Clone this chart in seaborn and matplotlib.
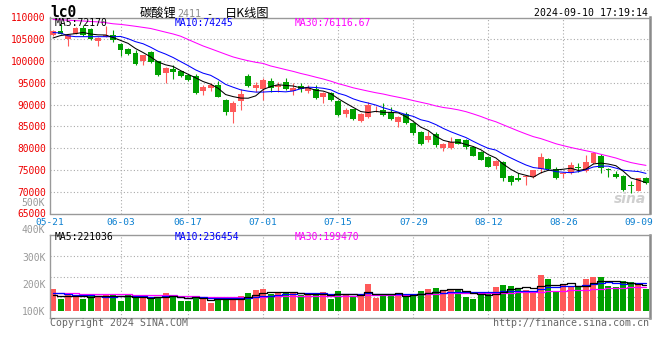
import numpy as np
import pandas as pd
import matplotlib
matplotlib.use("Agg")
import matplotlib.pyplot as plt
import matplotlib.transforms as mtransforms
import seaborn as sns

# ---------------- data ----------------
dates = ["05-21", "05-22", "05-23", "05-24", "05-27", "05-28", "05-29", "05-30", "05-31",
         "06-03", "06-04", "06-05", "06-06", "06-07", "06-11", "06-12", "06-13", "06-14",
         "06-17", "06-18", "06-19", "06-20", "06-21", "06-24", "06-25", "06-26", "06-27", "06-28",
         "07-01", "07-02", "07-03", "07-04", "07-05", "07-08", "07-09", "07-10", "07-11", "07-12",
         "07-15", "07-16", "07-17", "07-18", "07-19", "07-22", "07-23", "07-24", "07-25", "07-26",
         "07-29", "07-30", "07-31", "08-01", "08-02", "08-05", "08-06", "08-07", "08-08", "08-09",
         "08-12", "08-13", "08-14", "08-15", "08-16", "08-19", "08-20", "08-21", "08-22", "08-23",
         "08-26", "08-27", "08-28", "08-29", "08-30", "09-02", "09-03", "09-04", "09-05", "09-06",
         "09-09", "09-10"]

opens = [106000, 106900, 105140, 106300, 107660, 107360, 104680, 105600, 105920, 104030,
         102850, 101930, 100020, 102090, 99950, 97270, 98260, 97650, 96740, 96580,
         93210, 93890, 94510, 91070, 88390, 90920, 96650, 93890, 93530, 95430,
         93990, 95120, 93210, 94290, 93210, 93530, 91830, 92610, 90920, 87780,
         88990, 86330, 87240, 88900, 88780, 88390, 86100, 87860, 85870, 83800,
         81900, 83270, 79990, 79990, 82060, 81900, 80360, 79210, 78070, 75930,
         76920, 73640, 73110, 73400, 73340, 75180, 77540, 75180, 74030, 74260,
         75770, 74850, 76550, 78300, 75180, 74100, 73720, 71580, 70200, 73110]
highs = [107200, 108400, 106300, 107900, 108280, 107500, 105500, 108000, 107060, 104200,
         103000, 102480, 101500, 102400, 100100, 98600, 99170, 97800, 97110, 97110,
         94510, 94900, 95430, 91200, 90920, 93530, 96970, 95270, 96050, 96050,
         95270, 96050, 94900, 94900, 94510, 94510, 92900, 92800, 91100, 89310,
         89100, 88000, 90690, 89700, 90310, 89470, 87400, 88390, 86000, 84000,
         84030, 83600, 81100, 82520, 82200, 82000, 80500, 79300, 78200, 77300,
         77000, 73800, 74400, 73700, 75100, 78850, 77700, 75600, 74500, 76780,
         76550, 78460, 79100, 78690, 75500, 74850, 73800, 72560, 73200, 73340]
lows = [105800, 106100, 103400, 106150, 105800, 104900, 103400, 105500, 104380, 101100,
        101330, 99170, 99170, 99600, 96510, 94970, 95820, 96400, 95400, 92520,
        92220, 93210, 91690, 87630, 85870, 88770, 94130, 92840, 91070, 92990,
        92990, 93300, 92220, 92990, 92760, 91400, 90310, 90900, 87400, 87240,
        86500, 86100, 87000, 88390, 87400, 86500, 84950, 85600, 83100, 80750,
        81510, 80300, 79440, 79800, 80900, 79800, 78200, 77200, 75650, 75250,
        72560, 71580, 72500, 71580, 73200, 74260, 75100, 73000, 73250, 74100,
        74630, 74630, 76400, 74400, 73490, 73260, 70200, 69670, 70100, 71730]
closes = [106900, 106290, 106060, 107670, 105920, 105070, 105370, 105900, 104770, 102590,
          101700, 99400, 101330, 99790, 96740, 98420, 97500, 96580, 95590, 92680,
          94130, 94510, 91830, 88390, 90310, 92450, 94360, 94510, 95660, 93760,
          94510, 93530, 93890, 93530, 93890, 91600, 92610, 91070, 87630, 88770,
          86710, 87860, 89930, 88980, 87630, 86720, 87240, 85730, 83440, 80980,
          82820, 80750, 80980, 81370, 80980, 80220, 78300, 77310, 75770, 77150,
          73110, 72330, 72720, 73560, 75010, 78070, 75250, 73110, 74400, 76160,
          75410, 76920, 78990, 75410, 75020, 73490, 70430, 71350, 73110, 71960]
volumes = [181500, 144400, 159300, 156700, 144400, 159300, 155600, 161900, 159300, 137000,
           159300, 147000, 159300, 144400, 149300, 166700, 159300, 137000, 137000, 155600,
           147000, 129600, 144400, 149300, 153000, 154400, 166700, 177800, 181500, 164100,
           167800, 166700, 166700, 159300, 159300, 166700, 170400, 144400, 174000, 163000,
           155600, 155600, 200000, 148100, 163000, 155600, 163000, 155600, 163000, 174000,
           181500, 185200, 177800, 181500, 177800, 151900, 144400, 159300, 166700, 188900,
           196300, 192600, 181500, 177800, 170400, 233300, 218500, 174000, 200000, 188900,
           188900, 218500, 225900, 225900, 192600, 188900, 211100, 207400, 200000, 181500]

# moving-average values before each window is full
price_ma5_head = [105300, 105850, 106100, 106300]
price_ma10_head = [106550, 106450, 105800, 105600, 105600, 105600, 105600, 105600, 105580]
price_ma30_head = [109540, 109470, 109380, 109290, 109200, 109080, 108990, 108810, 108560,
                   108420, 108210, 107980, 107730, 107480, 107060, 106630, 106220, 105710,
                   104950, 104200, 103460, 102840, 102200, 101560, 100940, 100480, 100070,
                   99720, 99450]
vol_ma5_head = [160000, 156000, 155000, 156000]
vol_ma10_head = [166000, 166000, 164000, 160000, 159000, 158000, 154000, 153000, 153000]
vol_ma30_head = ([167000] * 4 + [162000] * 7 + [158000] * 6 + [155000] * 3
                 + [151000] * 6 + [152000] * 3)

symbol = "lc0"
title_name = "碳酸锂"
title_code = "2411"
title_sep = " -  "
title_rest = "日K线图"
timestamp = "2024-09-10 17:19:14"
price_legend = ["MA5:72170", "MA10:74245", "MA30:76116.67"]
volume_legend = ["MA5:221036", "MA10:236454", "MA30:199470"]
tick_dates = ["05-21", "06-03", "06-17", "07-01", "07-15", "07-29", "08-12", "08-26", "09-09"]
price_ticks = [65000, 70000, 75000, 80000, 85000, 90000, 95000, 100000, 105000, 110000]
volume_ticks = [100000, 200000, 300000]
volume_extra_ticks = [400000, 500000]
footer_left = "Copyright 2024 SINA.COM"
footer_right = "http://finance.sina.com.cn"
watermark = "sina"

# ---------------- style ----------------
sns.set_style("white")
MONO = "DejaVu Sans Mono"
CJK = "Noto Sans CJK SC"
plt.rcParams["font.family"] = [MONO, CJK]

RED = "#ff5a5a"
GREEN = "#00a000"
BLUE = "#0000ff"
MAGENTA = "#ff00ff"
GRID = "#aaaaaa"
FRAME = "#999999"
TICK_RED = "#ee0000"
DATE_BLUE = "#0a7fd0"
VOL_GRAY = "#999999"
FOOT_GRAY = "#666666"

W, H = 660, 360
fig = plt.figure(figsize=(W / 100, H / 100), dpi=100)
fig.patch.set_facecolor("white")


def frame(l, t, r, b):
    return [l / W, 1 - b / H, (r - l) / W, (b - t) / H]


ax = fig.add_axes(frame(50, 17.5, 649.5, 213.5))
axv = fig.add_axes(frame(50, 235, 649.5, 318))

XMIN, XMAX = -0.4, 79.47
x = np.arange(len(dates))
o = np.array(opens, float)
h = np.array(highs, float)
l = np.array(lows, float)
c = np.array(closes, float)
v = np.array(volumes, float)
up = c >= o
colors = np.where(up, RED, GREEN)


def moving(vals, n, head):
    s = pd.Series(vals, dtype=float).rolling(n).mean().to_numpy()
    s[: n - 1] = head
    return s


# grid (drawn first, below marks)
tick_idx = [dates.index(d) for d in tick_dates]
tick_pos = [XMIN if i == 0 else i for i in tick_idx]
grid_kw = dict(color=GRID, linestyle=(0, (1, 2)), linewidth=0.8, zorder=0)
for p in price_ticks[1:-1]:
    ax.axhline(p, **grid_kw)
for p in tick_pos[1:-1]:
    ax.axvline(p, **grid_kw)
    axv.axvline(p, **grid_kw)
for f in (0.25, 0.5, 0.75):
    axv.plot([0, 1], [f, f], transform=axv.transAxes, **grid_kw)

# candlesticks
ax.vlines(x, l, h, colors=colors, linewidth=0.8, zorder=2)
body_lo = np.minimum(o, c)
body_h = np.maximum(np.abs(c - o), 200)
ax.bar(x, body_h, bottom=body_lo, width=0.78, color=colors, linewidth=0, zorder=3)

# price moving averages
ma5 = moving(c, 5, price_ma5_head)
ma10 = moving(c, 10, price_ma10_head)
ma30 = moving(c, 30, price_ma30_head)
for ser, col in ((ma30, MAGENTA), (ma10, BLUE), (ma5, "black")):
    sns.lineplot(x=x, y=ser, ax=ax, color=col, linewidth=0.75, legend=False, zorder=4)

ax.set_xlim(XMIN, XMAX)
ax.set_ylim(price_ticks[0], price_ticks[-1])
ax.set_yticks(price_ticks)
ax.set_yticklabels([str(p) for p in price_ticks], color=TICK_RED, fontsize=6.9, family=MONO)
ax.set_xticks(tick_pos)
ax.set_xticklabels(tick_dates, color=DATE_BLUE, fontsize=6.8, family=MONO)
ax.tick_params(axis="both", length=0, pad=3)
ax.set_xlabel("")
ax.set_ylabel("")

# volume panel
VOL_BASE = 100000
VOL_PX = 27.0  # pixels per 100K
vol_lo = VOL_BASE - 7 / VOL_PX * 100000
vol_hi = VOL_BASE + 76 / VOL_PX * 100000
axv.bar(x, v - VOL_BASE, bottom=VOL_BASE, width=0.8, color=colors, linewidth=0, zorder=2)
vma5 = moving(v, 5, vol_ma5_head)
vma10 = moving(v, 10, vol_ma10_head)
vma30 = moving(v, 30, vol_ma30_head)
for ser, col in ((vma30, MAGENTA), (vma10, BLUE), (vma5, "black")):
    sns.lineplot(x=x, y=ser, ax=axv, color=col, linewidth=0.9, legend=False,
                 drawstyle="steps-mid", zorder=4)
axv.set_xlim(XMIN, XMAX)
axv.set_ylim(vol_lo, vol_hi)
axv.set_yticks(volume_ticks)
axv.set_yticklabels([f"{t // 1000}K" for t in volume_ticks], color=VOL_GRAY,
                    fontsize=7, family=MONO)
axv.set_xticks(tick_pos)
axv.set_xticklabels([])
axv.tick_params(axis="both", length=0, pad=3)
axv.set_xlabel("")
axv.set_ylabel("")
blend = mtransforms.blended_transform_factory(axv.transAxes, axv.transData)
for t in volume_extra_ticks:
    axv.text(-5 / 599.5, t, f"{t // 1000}K", transform=blend, ha="right", va="center",
             color=VOL_GRAY, fontsize=7, family=MONO, clip_on=False)

for a in (ax, axv):
    for side, sp in a.spines.items():
        sp.set_visible(True)
        sp.set_color(FRAME)
        sp.set_linewidth(1.0)
    a.spines["right"].set_linewidth(1.8)
    a.spines["right"].set_color("#8a8a8a")

# legends in panels
leg_x = [55, 175, 295]
for txt, col, lx in zip(price_legend, ["black", BLUE, MAGENTA], leg_x):
    fig.text(lx / W, 1 - 23.5 / H, txt, color=col, fontsize=7, family=MONO, va="center")
for txt, col, lx in zip(volume_legend, ["black", BLUE, MAGENTA], leg_x):
    fig.text(lx / W, 1 - 237.5 / H, txt, color=col, fontsize=7, family=MONO, va="center")

# header
fig.text(50 / W, 1 - 16.7 / H, symbol, fontsize=10.5, fontweight="bold", family=MONO,
         va="baseline", color="black")
renderer = fig.canvas.get_renderer()
cur_x = 140.0
for txt, col, fam, size in ((title_name, "black", CJK, 8.8), (title_code, "#8a8a8a", MONO, 7.2),
                            (title_sep, "black", MONO, 7.2), (title_rest, "black", CJK, 8.8)):
    t = fig.text(cur_x / W, 1 - 16.7 / H, txt, color=col, family=[fam, CJK], fontsize=size,
                 va="baseline")
    bb = t.get_window_extent(renderer)
    cur_x = bb.x1
fig.text(648 / W, 1 - 15.5 / H, timestamp, fontsize=7.1, family=MONO, ha="right",
         va="baseline", color="black")

# footer
fig.text(50 / W, 1 - 323.5 / H, footer_left, fontsize=7.1, family=MONO, va="center",
         color=FOOT_GRAY)
fig.text(649 / W, 1 - 323.5 / H, footer_right, fontsize=7.2, family=MONO, va="center",
         ha="right", color=FOOT_GRAY)

# watermark
ax.text(0.995, 0.04, watermark, transform=ax.transAxes, ha="right", va="bottom",
        fontsize=10, fontstyle="italic", fontweight="bold", color="#cfcfcf",
        family="DejaVu Sans", zorder=1)

fig.savefig("out.png", dpi=100, facecolor="white")
